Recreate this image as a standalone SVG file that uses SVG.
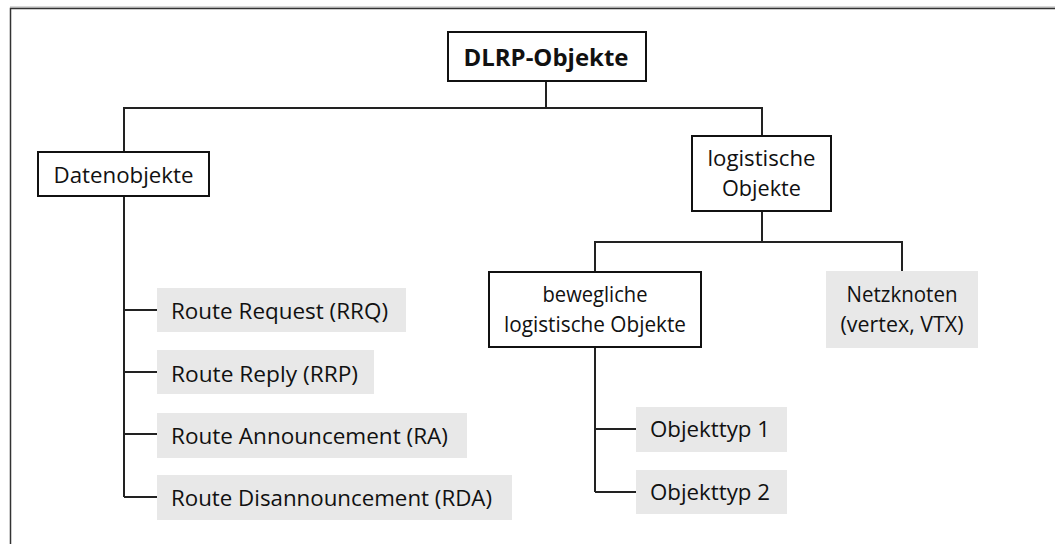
<svg xmlns="http://www.w3.org/2000/svg" width="1055" height="544" viewBox="0 0 1055 544">
  <style>
    text { font-family: "Open Sans", "Noto Sans", "Liberation Sans", sans-serif; font-size: 22.5px; fill: #111; }
    .title { font-weight: bold; font-size: 24px; }
    .mid { text-anchor: middle; }
    .box { fill: #fff; stroke: #111; stroke-width: 2; }
    .leaf { fill: #e8e8e8; stroke: none; }
    .conn { fill: none; stroke: #222; stroke-width: 2; }
  </style>

  <!-- frame -->
  <g id="frame">
    <line x1="10" y1="7" x2="1055" y2="7" stroke="#b0b0b0" stroke-width="1"/>
    <path d="M10.5 544 V8.5 H1055" fill="none" stroke="#333" stroke-width="1.5"/>
  </g>

  <!-- connectors -->
  <g id="connectors" class="conn">
    <path d="M546 81 V108 M124 152 V108 H762 V136"/>
    <path d="M124 196 V497 M124 310 H157 M124 372 H157 M124 434 H157 M124 497 H157"/>
    <path d="M762 211 V242 M595 272 V242 H902 V271"/>
    <path d="M595 347 V492 M595 429 H636 M595 492 H636"/>
  </g>

  <g id="dlrp-objekte">
    <rect class="box" x="448" y="32" width="198" height="49"/>
    <text class="title mid" x="546" y="66" textLength="165" lengthAdjust="spacingAndGlyphs">DLRP-Objekte</text>
  </g>

  <g id="datenobjekte">
    <rect class="box" x="38" y="152" width="171" height="44"/>
    <text class="mid" x="123.5" y="183" textLength="140" lengthAdjust="spacingAndGlyphs">Datenobjekte</text>
  </g>

  <g id="logistische-objekte">
    <rect class="box" x="692" y="136" width="139" height="75"/>
    <text class="mid" x="761.5" y="166" textLength="108" lengthAdjust="spacingAndGlyphs">logistische</text>
    <text class="mid" x="761.5" y="196" textLength="79" lengthAdjust="spacingAndGlyphs">Objekte</text>
  </g>

  <g id="route-request">
    <rect class="leaf" x="157" y="288" width="249" height="44"/>
    <text x="171" y="319" textLength="217" lengthAdjust="spacingAndGlyphs">Route Request (RRQ)</text>
  </g>

  <g id="route-reply">
    <rect class="leaf" x="157" y="350" width="217" height="44"/>
    <text x="171" y="382" textLength="187" lengthAdjust="spacingAndGlyphs">Route Reply (RRP)</text>
  </g>

  <g id="route-announcement">
    <rect class="leaf" x="157" y="413" width="310" height="45"/>
    <text x="171" y="444" textLength="277" lengthAdjust="spacingAndGlyphs">Route Announcement (RA)</text>
  </g>

  <g id="route-disannouncement">
    <rect class="leaf" x="157" y="475" width="355" height="45"/>
    <text x="171" y="506" textLength="321" lengthAdjust="spacingAndGlyphs">Route Disannouncement (RDA)</text>
  </g>

  <g id="bewegliche-objekte">
    <rect class="box" x="489" y="272" width="212" height="75"/>
    <text class="mid" x="595" y="302" textLength="105" lengthAdjust="spacingAndGlyphs">bewegliche</text>
    <text class="mid" x="595" y="332" textLength="182" lengthAdjust="spacingAndGlyphs">logistische Objekte</text>
  </g>

  <g id="netzknoten">
    <rect class="leaf" x="826" y="271" width="152" height="77"/>
    <text class="mid" x="902" y="302" textLength="111" lengthAdjust="spacingAndGlyphs">Netzknoten</text>
    <text class="mid" x="902" y="332" textLength="123" lengthAdjust="spacingAndGlyphs">(vertex, VTX)</text>
  </g>

  <g id="objekttyp-1">
    <rect class="leaf" x="636" y="407" width="151" height="45"/>
    <text x="650" y="437" textLength="120" lengthAdjust="spacingAndGlyphs">Objekttyp 1</text>
  </g>

  <g id="objekttyp-2">
    <rect class="leaf" x="636" y="470" width="151" height="44"/>
    <text x="650" y="500" textLength="120" lengthAdjust="spacingAndGlyphs">Objekttyp 2</text>
  </g>
</svg>
